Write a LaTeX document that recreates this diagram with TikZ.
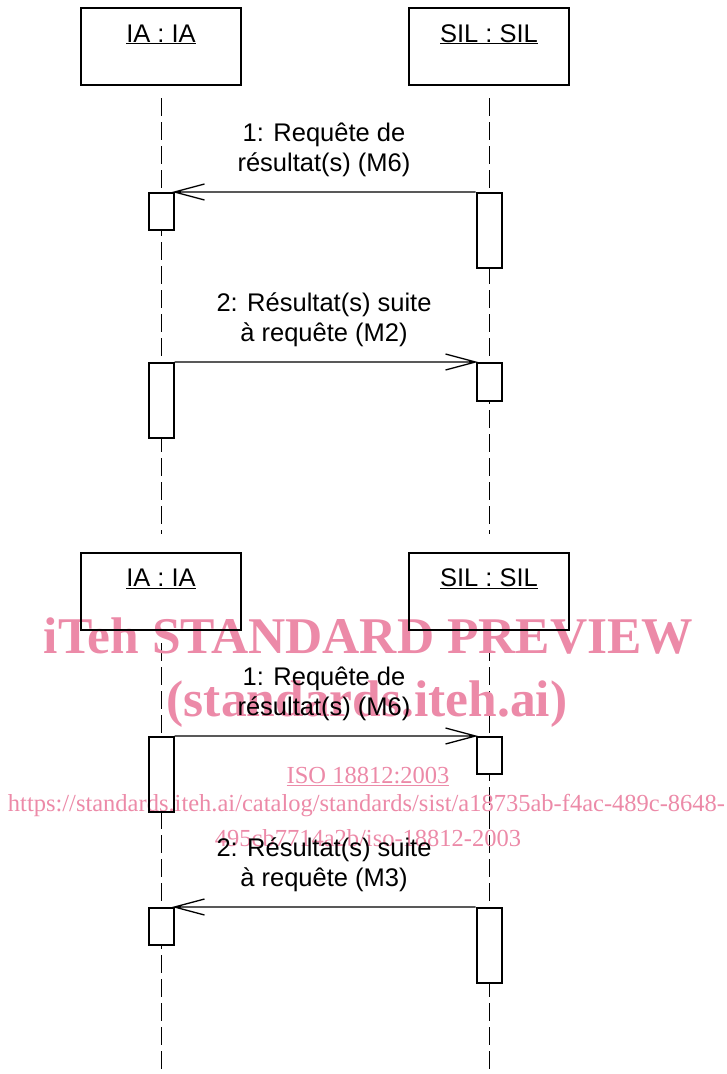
\documentclass[tikz,border=0pt]{standalone}
\usepackage{fontspec}
\setmainfont{Liberation Sans}
\newfontfamily\wmfont{Liberation Serif}
\definecolor{wmpink}{RGB}{236,138,168}
\pgfdeclarelayer{bg}
\pgfdeclarelayer{wm}
\pgfsetlayers{bg,wm,main}
\begin{document}
\begin{tikzpicture}[x=1pt,y=-1pt,
  objbox/.style={draw, line width=2pt, minimum width=160pt, minimum height=77pt, inner sep=0pt},
  objname/.style={anchor=base, font=\fontsize{25.5}{30}\selectfont, inner sep=0pt},
  actfill/.style={fill=white, minimum width=25pt, inner sep=0pt, anchor=north},
  actbox/.style={draw, line width=2pt, minimum width=25pt, inner sep=0pt, anchor=north},
  lifeline/.style={line width=1pt, dash pattern=on 18pt off 6pt},
  msg/.style={line width=1.3pt},
  msglabel/.style={anchor=base, align=center, font=\fontsize{25.5}{30}\selectfont, inner sep=0pt},
  wmbig/.style={text=wmpink, anchor=base, inner sep=0pt, font=\wmfont\bfseries\fontsize{51.5}{50}\selectfont},
  wmsmall/.style={text=wmpink, anchor=base, inner sep=0pt, font=\wmfont\fontsize{24.5}{28}\selectfont},
]
\useasboundingbox (0,0) rectangle (727,1074);

% ---------- top diagram ----------
\node[objbox] (ia1) at (161,46.5) {};
\node[objbox] (sil1) at (489,46.5) {};
\node[objname] (ia1t) at (161,42) {\underline{IA : IA}};
\node[objname] (sil1t) at (489,42) {\underline{SIL : SIL}};
\coordinate (ia1s) at (161,98);
\coordinate (ia1e) at (161,534);
\coordinate (sil1s) at (489,98);
\coordinate (sil1e) at (489,534);

% ---------- bottom diagram ----------
\node[objbox] (ia2) at (161,591) {};
\node[objbox] (sil2) at (489,591) {};
\node[objname] (ia2t) at (161,586.5) {\underline{IA : IA}};
\node[objname] (sil2t) at (489,586.5) {\underline{SIL : SIL}};
\coordinate (ia2s) at (161,643);
\coordinate (ia2e) at (161,1074);
\coordinate (sil2s) at (489,643);
\coordinate (sil2e) at (489,1074);

\begin{pgfonlayer}{bg}
  \draw[lifeline] (ia1s) -- (ia1e);
  \draw[lifeline] (sil1s) -- (sil1e);
  \draw[lifeline] (ia2s) -- (ia2e);
  \draw[lifeline] (sil2s) -- (sil2e);
  \node[actfill, minimum height=37pt] at (161,192) {};
  \node[actfill, minimum height=75pt] at (489,192) {};
  \node[actfill, minimum height=75pt] at (161,362) {};
  \node[actfill, minimum height=38pt] at (489,362) {};
  \node[actfill, minimum height=75pt] at (161,736) {};
  \node[actfill, minimum height=37pt] at (489,736) {};
  \node[actfill, minimum height=37pt] at (161,907) {};
  \node[actfill, minimum height=75pt] at (489,907) {};
\end{pgfonlayer}

% activations
\node[actbox, minimum height=37pt] (a1i) at (161,192) {};
\node[actbox, minimum height=75pt] (a1s) at (489,192) {};
\node[actbox, minimum height=75pt] (a2i) at (161,362) {};
\node[actbox, minimum height=38pt] (a2s) at (489,362) {};
\node[actbox, minimum height=75pt] (b1i) at (161,736) {};
\node[actbox, minimum height=37pt] (b1s) at (489,736) {};
\node[actbox, minimum height=37pt] (b2i) at (161,907) {};
\node[actbox, minimum height=75pt] (b2s) at (489,907) {};

% messages (open arrowheads drawn as two strokes at the target)
\draw[msg] (a1s.north west) -- (a1i.north east) -- ++(30,-8) (a1i.north east) -- ++(30,8);
\draw[msg] (a2i.north east) -- (a2s.north west) -- ++(-30,-8) (a2s.north west) -- ++(-30,8);
\draw[msg] (b1i.north east) -- (b1s.north west) -- ++(-30,-8) (b1s.north west) -- ++(-30,8);
\draw[msg] (b2s.north west) -- (b2i.north east) -- ++(30,-8) (b2i.north east) -- ++(30,8);

\node[msglabel] (l1) at (324,171) {1: Requête de\\résultat(s) (M6)};
\node[msglabel] (l2) at (324,341) {2: Résultat(s) suite\\à requête (M2)};
\node[msglabel] (l3) at (324,715) {1: Requête de\\résultat(s) (M6)};
\node[msglabel] (l4) at (324,886) {2: Résultat(s) suite\\à requête (M3)};

% watermark
\begin{pgfonlayer}{wm}
  \node[wmbig] (w1) at (368.5,653) {iTeh STANDARD PREVIEW};
  \node[wmbig] (w2) at (367,716) {(standards.iteh.ai)};
  \node[wmsmall] (w3) at (368,783) {\underline{ISO 18812:2003}};
  \node[wmsmall] (w4) at (366.5,811) {https://standards.iteh.ai/catalog/standards/sist/a18735ab-f4ac-489c-8648-};
  \node[wmsmall] (w5) at (368,846) {495cb7714a2b/iso-18812-2003};
\end{pgfonlayer}
\end{tikzpicture}
\end{document}
